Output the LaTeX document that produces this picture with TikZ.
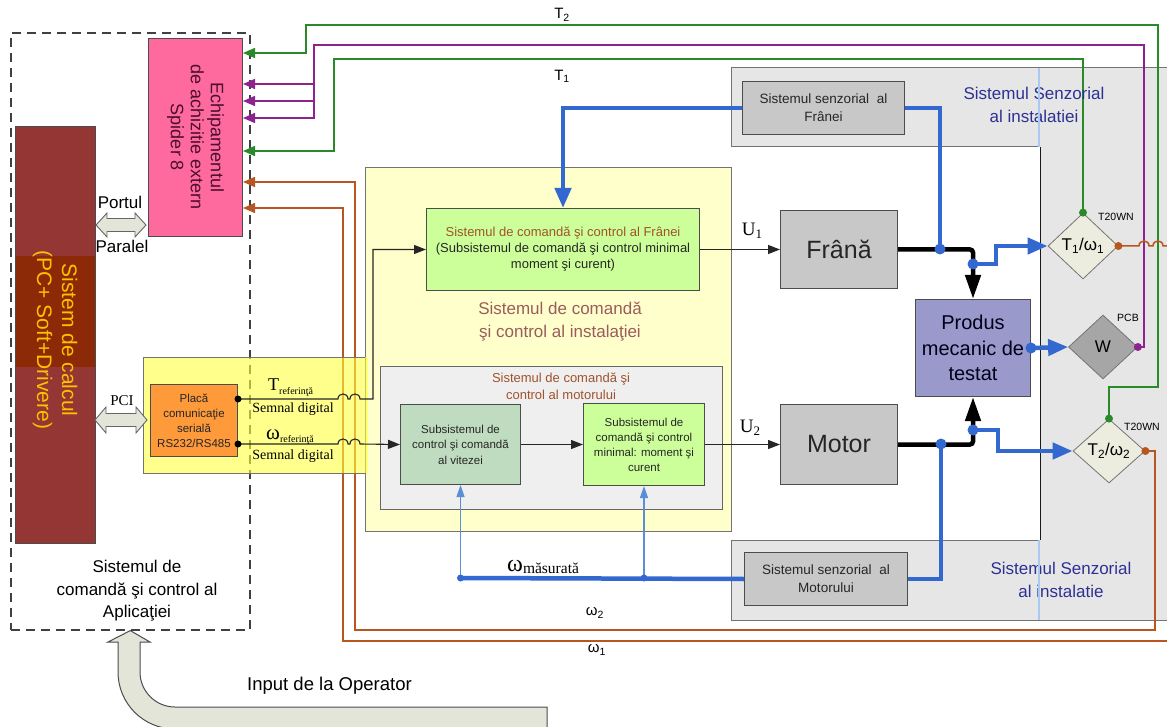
\documentclass[tikz,border=0pt]{standalone}
\usepackage{fontspec}
\setmainfont{Liberation Sans}
\newfontfamily\serf{Liberation Serif}
\usetikzlibrary{arrows.meta,shapes.geometric}

\definecolor{wgreen}{HTML}{2A8A2A}
\definecolor{wpurple}{HTML}{8E2390}
\definecolor{wbrown}{HTML}{B8561F}
\definecolor{wblue}{HTML}{3268D0}
\definecolor{wltblue}{HTML}{5A8FD8}
\definecolor{spiderpink}{HTML}{FF6A9E}
\definecolor{spidertext}{HTML}{4A0E2E}
\definecolor{pcred}{HTML}{943634}
\definecolor{pcband}{HTML}{8C2A08}
\definecolor{pctext}{HTML}{FFC000}
\definecolor{placaorange}{HTML}{FF9A3A}
\definecolor{instyellow}{HTML}{FFFFCC}
\definecolor{brightyellow}{HTML}{FFFF40}
\definecolor{motgray}{HTML}{EFEFEF}
\definecolor{ctrlgreen}{HTML}{CCFF99}
\definecolor{speedgreen}{HTML}{C0DCC0}
\definecolor{plantgray}{HTML}{C8C8C8}
\definecolor{prodviolet}{HTML}{9999CC}
\definecolor{sensgray}{HTML}{E6E6E6}
\definecolor{diabeige}{HTML}{EDEDDF}
\definecolor{diagray}{HTML}{A6A6A6}
\definecolor{sensblue}{HTML}{2E3192}
\definecolor{sepblue}{HTML}{A9C9F2}
\definecolor{titlebrown}{HTML}{A0522D}
\definecolor{insttitle}{HTML}{9A5C5C}
\definecolor{hollow}{HTML}{E2E5D8}

\tikzset{
  fsz/.style 2 args={font=\fontsize{#1}{#2}\selectfont},
  sfsz/.style 2 args={font=\serf\fontsize{#1}{#2}\selectfont},
  blockbox/.style={draw=black!70, line width=1pt, inner sep=0pt, align=center,
    anchor=north west, text=black!85},
  lbl/.style={inner sep=0pt, align=center},
  diam/.style={diamond, draw=black!55, line width=0.8pt, inner sep=0pt, fsz={17}{20}},
  wire/.style={line width=1.5pt},
  thinwire/.style={draw=black!85, line width=1.1pt},
  heavywire/.style={draw=black, line width=4.5pt},
  bluewire/.style={draw=wblue, line width=4.5pt},
  ltwire/.style={draw=wltblue, line width=1.2pt},
  wiretip/.style={-{Triangle[length=12pt,width=10pt]}},
  thintip/.style={-{Triangle[length=12pt,width=9pt]}},
  bluetip/.style={-{Triangle[length=20pt,width=16pt]}},
  blacktip/.style={-{Triangle[length=24pt,width=15pt]}},
  ltbluetip/.style={-{Triangle[length=12pt,width=8pt]}},
}

\begin{document}
\begin{tikzpicture}[x=1pt,y=-1pt]
\useasboundingbox (0,0) rectangle (1167,727);

% ---- sensor area of the installation
\fill[sensgray] (731,68) rectangle (1175,620);
\fill[white] (731,147) rectangle (1040,540);
\draw[black!55, line width=1pt] (1175,68) -- (731,68) -- (731,147) -- (1040,147);
\draw[black!55, line width=1pt] (1040,540) -- (731,540) -- (731,620) -- (1175,620);
\draw[black!90, line width=0.8pt] (1040,147) -- (1040,540);

% ---- application control (dashed frame)
\node[draw=black!75, dash pattern=on 9pt off 6pt, line width=1.6pt, inner sep=0pt,
  minimum width=239pt, minimum height=597pt, anchor=north west] (appbox) at (10,32) {};

% ---- installation control frame
\node[blockbox, draw=black!55, fill=instyellow, minimum width=366pt, minimum height=364pt] (inst) at (365,167) {};
\node[blockbox, draw=black!60, fill=motgray, minimum width=342pt, minimum height=143pt] (motsys) at (380,366) {};

% ---- nodes
\node[blockbox, fill=pcred, minimum width=80pt, minimum height=417pt] (pc) at (15,126) {};
\fill[pcband] (15.5,256) rectangle (94.5,367);
\node[lbl, rotate=-90, text=pctext, fsz={21}{25}] at (55,340) {Sistem de calcul\\(PC+ Soft+Drivere)};

\node[blockbox, fill=spiderpink, minimum width=94pt, minimum height=198pt] (spider) at (148,38) {};
\node[lbl, rotate=-90, text=spidertext, fsz={18}{20}] at (spider.center) {Echipamentul\\de achizitie extern\\Spider 8};

\node[diam, fill=diabeige, minimum width=70pt, minimum height=66pt] (t1) at (1083,246) {T\textsubscript{1}/ω\textsubscript{1}};
\node[diam, fill=diagray, minimum width=69pt, minimum height=64pt] (w) at (1103,347) {W};
\node[diam, fill=diabeige, minimum width=72pt, minimum height=64pt] (t2) at (1109,451) {T\textsubscript{2}/ω\textsubscript{2}};

% ---- acquisition wires to Spider 8
\draw[wire, wgreen, wiretip] (t2.north) |- (1158,387) -- (1158,25) -| (306,53) -- (spider.east |- 0,53);
\draw[wire, wpurple, wiretip] (w.east) -| (1144,45) -| (314,118) -- (spider.east |- 0,118);
\coordinate (pj1) at (314,84);
\coordinate (pj2) at (314,101);
\draw[wire, wpurple, wiretip] (pj1) -- (spider.east |- pj1);
\draw[wire, wpurple, wiretip] (pj2) -- (spider.east |- pj2);
\draw[wire, wgreen, wiretip] (t1.north) |- (334,59) -- (334,151) -- (spider.east |- 0,151);
\draw[wire, wbrown, wiretip] (t2.east) -| (1155,630) -| (355,182) -- (spider.east |- 0,182);
\coordinate (w1out) at (1172,246);
\coordinate (w1in) at (1172,641);
\draw[wire, wbrown] (t1.east) -- (1139,246) .. controls (1139,239.3) and (1149,239.3) .. (1149,246)
  -- (1153,246) .. controls (1153,239.3) and (1163,239.3) .. (1163,246) -- (w1out);
\draw[wire, wbrown, wiretip] (w1in) -| (343,208) -- (spider.east |- 0,208);

% ---- serial interface area
\fill[brightyellow, fill opacity=0.6] (143,357) rectangle (368,473);
\draw[black!55, line width=0.9pt] (365,357) -- (143,357) -- (143,473) -- (365,473);

\node[blockbox, fill=placaorange, minimum width=87pt, minimum height=72pt, fsz={11.5}{15}] (placa) at (150,384) {Placă\\comunicaţie\\serială\\RS232/RS485};

\node[blockbox, fill=ctrlgreen, minimum width=273pt, minimum height=82pt, fsz={13}{16}] (cf) at (426,208)
  {\textcolor{titlebrown}{Sistemul de comandă şi control al Frânei}\\(Subsistemul de comandă şi control minimal\\moment şi curent)};
\node[blockbox, fill=speedgreen, minimum width=120pt, minimum height=80pt, fsz={11.5}{15.5}] (sv) at (400,404) {Subsistemul de\\control şi comandă\\al vitezei};
\node[blockbox, fill=ctrlgreen, minimum width=121pt, minimum height=82pt, fsz={11.5}{15}] (sm) at (583,403) {Subsistemul de\\comandă şi control\\minimal: moment şi\\curent};
\node[blockbox, fill=plantgray, minimum width=117pt, minimum height=78pt, fsz={25}{30}] (frana) at (780,210) {Frână};
\node[blockbox, fill=plantgray, minimum width=117pt, minimum height=80pt, fsz={25}{30}] (motor) at (780,404) {Motor};
\node[blockbox, fill=prodviolet, minimum width=115pt, minimum height=97pt, fsz={20}{25.5}, text=black!90!blue] (prod) at (915,299) {Produs\\mecanic de\\testat};
\node[blockbox, fill=plantgray, minimum width=162pt, minimum height=53pt, fsz={13.5}{18}] (fsens) at (742,81) {Sistemul senzorial\ \ al\\Frânei};
\node[blockbox, fill=plantgray, minimum width=163pt, minimum height=53pt, fsz={13.5}{18}] (msens) at (744,552) {Sistemul senzorial\ \ al\\Motorului};

% ---- command signals
\coordinate (pT) at (placa.east |- 0,399);
\coordinate (pW) at (placa.east |- 0,444);
\draw[thinwire, thintip] (pT) -- (338,399) .. controls (338,392.3) and (348,392.3) .. (348,399)
  -- (350,399) .. controls (350,392.3) and (360,392.3) .. (360,399) -- (373,399) |- (cf.west);
\draw[thinwire, thintip] (pW) -- (338,444) .. controls (338,437.3) and (348,437.3) .. (348,444)
  -- (350,444) .. controls (350,437.3) and (360,437.3) .. (360,444) -- (sv.west);
\fill[black] (pT) circle (3.5);
\fill[black] (pW) circle (3.5);
\draw[thinwire, thintip] (sv.east) -- (sm.west);
\draw[thinwire, thintip] (sm.east) -- (motor.west);
\draw[thinwire, thintip] (cf.east) -- (frana.west);

% ---- mechanical coupling
\draw[heavywire, blacktip, rounded corners=3pt] (frana.east) -| (prod.north);
\draw[heavywire, blacktip, rounded corners=3pt] (motor.east) -| (prod.south);

% ---- measurement signals
\coordinate (dA) at (940,249);
\coordinate (dB) at (prod.north |- 0,264);
\coordinate (dC) at (prod.south |- 0,430);
\coordinate (dD) at (941,444);
\coordinate (dE) at (sv.south |- 0,578);
\coordinate (dF) at (sm.south |- 0,578);
\draw[bluewire] (dA) |- (fsens.east);
\draw[bluewire, bluetip] (fsens.west) -| (cf.north);
\draw[bluewire, bluetip] (dB) -- (996,264) |- (t1.west);
\draw[bluewire, bluetip] (prod.east) -- (w.west);
\draw[bluewire, bluetip] (dC) -- (998,430) |- (t2.west);
\draw[bluewire] (dD) |- (msens.east);
\draw[bluewire] (msens.west) -- (dE);
\draw[ltwire, ltbluetip] (dE) -- (sv.south);
\draw[ltwire, ltbluetip] (dF) -- (sm.south);
\foreach \p in {dA,dB,dC,dD,prod.east} \fill[wblue] (\p) circle (5.5);
\fill[wblue] (dE) circle (3.5);
\fill[wblue] (dF) circle (3.5);

% ---- sensor terminals
\fill[wgreen] (t1.north) circle (4);
\fill[wgreen] (t2.north) circle (4);
\fill[wbrown] (t1.east) circle (4);
\fill[wbrown] (t2.east) circle (4);
\fill[wpurple] (w.east) circle (4);
\node[lbl, fsz={10.5}{12}] at (1116,217) {T20WN};
\node[lbl, fsz={10.5}{12}] at (1128,318) {PCB};
\node[lbl, fsz={10.5}{12}] at (1142,427) {T20WN};

% ---- bus arrows
\filldraw[fill=hollow, draw=black!60, line width=0.9pt]
  (96,225) -- (107,213) -- (107,218.5) -- (135,218.5) -- (135,213) -- (146,225)
  -- (135,237) -- (135,231.5) -- (107,231.5) -- (107,237) -- cycle;
\filldraw[fill=hollow, draw=black!60, line width=0.9pt]
  (95,420) -- (106,407) -- (106,413.5) -- (136,413.5) -- (136,407) -- (147,420)
  -- (136,433) -- (136,426.5) -- (106,426.5) -- (106,433) -- cycle;

% ---- operator input
\filldraw[fill=hollow, draw=black!70, line width=1pt]
  (547,707) -- (175,707) .. controls (155.7,707) and (140,691.3) .. (140,672) -- (140,642)
  -- (150,642) -- (appbox.south) -- (108,642) -- (118,642) -- (118,672)
  .. controls (118,703.5) and (143.5,729) .. (175,729) -- (547,729) -- cycle;

% ---- labels
\node[lbl, fsz={17}{20}] at (120,202) {Portul};
\node[lbl, fsz={17}{20}] at (122,246) {Paralel};
\node[lbl, sfsz={15}{18}] at (122,401) {PCI};
\node[lbl, fsz={17}{22.5}] at (137,591) {Sistemul de\\comandă şi control al\\Aplicaţiei};
\node[lbl, anchor=west, fsz={18.5}{22}] at (247,686) {Input de la Operator};
\node[lbl, fsz={15}{18}] at (562,15) {T\textsubscript{2}};
\node[lbl, fsz={15}{18}] at (562,76) {T\textsubscript{1}};
\node[lbl, fsz={15}{18}] at (595,613) {ω\textsubscript{2}};
\node[lbl, fsz={15}{18}] at (597,650) {ω\textsubscript{1}};
\node[lbl, anchor=base west, sfsz={18}{20}] at (268,390) {T\raisebox{-4pt}{\fontsize{10}{12}\selectfont referinţă}};
\node[lbl, sfsz={14}{16}] at (293,409) {Semnal digital};
\node[lbl, anchor=base west, sfsz={21}{22}] at (266,439) {ω\raisebox{-3pt}{\fontsize{10}{12}\selectfont referinţă}};
\node[lbl, sfsz={14}{16}] at (293,456) {Semnal digital};
\node[lbl, anchor=base west, sfsz={24}{26}] at (507,571) {ω\raisebox{-2pt}{\fontsize{15.5}{18}\selectfont măsurată}};
\node[lbl, sfsz={19}{22}] at (752,231) {U\raisebox{-3pt}{\fontsize{13}{14}\selectfont 1}};
\node[lbl, sfsz={19}{22}] at (750,428) {U\raisebox{-3pt}{\fontsize{13}{14}\selectfont 2}};
\node[lbl, text=insttitle, fsz={17}{23}] at (560,322) {Sistemul de comandă\\şi control al instalaţiei};
\node[lbl, text=titlebrown, fsz={13}{17}] at (561,386) {Sistemul de comandă şi\\control al motorului};
\node[lbl, text=sensblue, fsz={17}{23}] at (1034,105) {Sistemul Senzorial\\al instalatiei};
\node[lbl, text=sensblue, fsz={17}{23}] at (1061,580) {Sistemul Senzorial\\al instalatie};
\draw[sepblue, line width=1.5pt] (1039,68) -- (1039,147);
\draw[sepblue, line width=1.5pt] (1039,540) -- (1039,620);
\end{tikzpicture}
\end{document}
